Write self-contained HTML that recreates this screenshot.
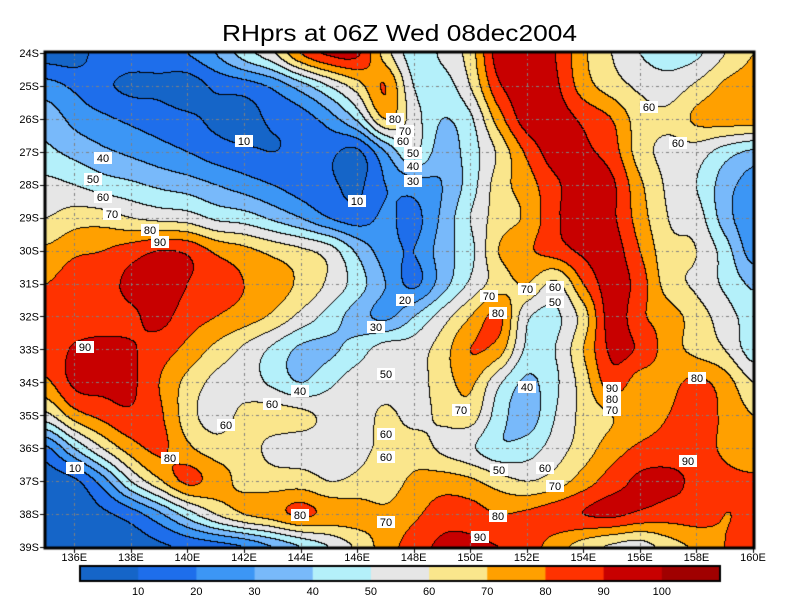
<!DOCTYPE html>
<html><head><meta charset="utf-8">
<style>
html,body{margin:0;padding:0;background:#fff;}
#wrap{position:relative;width:800px;height:600px;overflow:hidden;font-family:"Liberation Sans",sans-serif;}
canvas{position:absolute;left:0;top:0;}
svg{position:absolute;left:0;top:0;}
</style></head><body>
<div id="wrap">
<canvas id="c" width="800" height="600"></canvas>
<svg width="800" height="600" xmlns="http://www.w3.org/2000/svg" font-family="Liberation Sans, sans-serif">
<text x="222" y="41" font-size="23" textLength="355" lengthAdjust="spacingAndGlyphs">RHprs at 06Z Wed 08dec2004</text>
<g id="lab" font-size="11"></g>
<g id="ax" font-size="11"></g>
</svg>
</div>
<script>
var G=[
[5,5,15,15,15,20,30,45,58,80,92,92,65,45,52,65,95,96,90,72,60,50,45,48,60,70],
[24,18,12,8,8,5,12,15,22,35,50,65,80,50,45,60,88,96,92,75,65,58,55,62,72,75],
[36,27,22,18,15,12,8,6,12,15,25,42,70,55,40,48,75,95,95,88,80,65,62,72,75,75],
[42,37,32,28,24,20,15,12,10,12,12,8,30,50,35,45,62,82,95,92,85,65,57,55,45,38],
[53,50,45,42,38,35,30,25,20,15,12,8,20,25,30,45,65,75,88,95,92,72,58,50,35,25],
[60,65,65,60,57,55,48,45,38,30,20,15,22,17,32,50,65,72,88,95,92,75,60,55,35,22],
[72,78,80,85,90,88,78,73,67,62,55,38,25,20,35,47,70,78,85,92,95,80,63,60,45,25],
[80,85,85,93,95,90,85,80,75,68,58,45,30,18,35,52,65,70,58,80,95,85,65,58,48,38],
[85,85,85,88,93,85,80,75,68,57,46,35,28,40,55,70,82,52,48,65,95,82,75,65,55,45],
[85,91,93,91,85,77,67,58,48,38,38,45,55,55,65,80,75,48,50,70,92,88,75,67,60,45],
[78,92,93,92,80,67,57,55,48,40,48,55,55,55,65,72,52,38,48,65,85,75,77,82,75,60],
[57,75,83,88,82,65,55,63,65,63,57,55,62,57,62,65,45,35,50,63,70,73,80,85,78,70],
[18,40,60,75,82,72,65,65,57,55,57,58,62,65,58,52,42,45,55,65,75,82,85,85,78,72],
[5,8,25,50,68,82,75,67,65,65,60,62,65,72,75,72,65,60,65,75,85,92,92,88,83,82],
[5,5,8,15,28,45,60,70,75,82,77,75,72,78,85,85,80,82,86,90,92,88,85,85,80,82],
[5,5,5,5,8,12,15,20,30,40,50,62,75,85,92,92,90,85,75,65,58,55,65,72,80,85]];
var COLS=["#1565c8","#1e6eeb","#3c96f5","#78b9fa","#b4f0fa","#e6e6e6","#fae68c","#ffa000","#ff3200","#c80000","#a00000"];
var RGB=COLS.map(function(h){return [parseInt(h.substr(1,2),16),parseInt(h.substr(3,2),16),parseInt(h.substr(5,2),16)];});
function g(r,c){r=Math.max(0,Math.min(15,r));c=Math.max(0,Math.min(25,c));return G[r][c];}
function cr(p0,p1,p2,p3,t){return 0.5*((2*p1)+(-p0+p2)*t+(2*p0-5*p1+4*p2-p3)*t*t+(-p0+3*p1-3*p2+p3)*t*t*t);}
function val(u,v){var i=Math.floor(v),j=Math.floor(u),tv=v-i,tu=u-j;var rows=[];
for(var k=-1;k<=2;k++){rows.push(cr(g(i+k,j-1),g(i+k,j),g(i+k,j+1),g(i+k,j+2),tu));}
return cr(rows[0],rows[1],rows[2],rows[3],tv);}
var X0=46,Y0=53,X1=753,Y1=547,W=X1-X0,H=Y1-Y0;
var cv=document.getElementById('c'),ctx=cv.getContext('2d');
var img=ctx.createImageData(W,H),band=new Int8Array(W*H);
for(var y=0;y<H;y++)for(var x=0;x<W;x++){var u=x/(W/25),v=y/(H/15);var b=Math.floor(val(u,v)/10);if(b<0)b=0;if(b>10)b=10;band[y*W+x]=b;}
for(var y=0;y<H;y++)for(var x=0;x<W;x++){var b=band[y*W+x],o=(y*W+x)*4,c=RGB[b];
var edge=(x<W-1&&band[y*W+x+1]!=b)||(y<H-1&&band[(y+1)*W+x]!=b);
if(edge){img.data[o]=0;img.data[o+1]=0;img.data[o+2]=0;}else{img.data[o]=c[0];img.data[o+1]=c[1];img.data[o+2]=c[2];}img.data[o+3]=255;}
ctx.putImageData(img,X0,Y0);
// grid
ctx.strokeStyle="#808080";ctx.lineWidth=1;ctx.setLineDash([3,3,1,3]);
for(var L=136;L<160;L+=2){var gx=Math.round(X0+(L-135)*W/25)+0.5;ctx.beginPath();ctx.moveTo(gx,Y0);ctx.lineTo(gx,Y1);ctx.stroke();}
for(var S=25;S<39;S++){var gy=Math.round(Y0+(S-24)*H/15)+0.5;ctx.beginPath();ctx.moveTo(X0,gy);ctx.lineTo(X1,gy);ctx.stroke();}
ctx.setLineDash([]);
ctx.strokeStyle="#000";ctx.lineWidth=3;ctx.strokeRect(X0-1,Y0-1,W+2,H+2);
ctx.lineWidth=1;
for(var L=136;L<=160;L+=2){var gx=Math.round(X0+(L-135)*W/25)+0.5;ctx.beginPath();ctx.moveTo(gx,Y1);ctx.lineTo(gx,Y1+6);ctx.stroke();}
for(var S=24;S<=39;S++){var gy=Math.round(Y0+(S-24)*H/15)+0.5;ctx.beginPath();ctx.moveTo(X0-6,gy);ctx.lineTo(X0,gy);ctx.stroke();}
// colorbar
var bx=80,bw=640/11;
for(var i=0;i<11;i++){ctx.fillStyle=COLS[i];ctx.fillRect(bx+i*bw,566,bw+1,15);}
ctx.strokeStyle="#000";ctx.lineWidth=2;ctx.strokeRect(80,566,640,15);
// svg text
var NS="http://www.w3.org/2000/svg";
function T(par,x,y,s,anchor,bg){var t=document.createElementNS(NS,'text');t.setAttribute('x',x);t.setAttribute('y',y);t.setAttribute('text-anchor',anchor||'middle');t.textContent=s;
if(bg){var r=document.createElementNS(NS,'rect');r.setAttribute('x',x-s.length*3.5-2);r.setAttribute('y',y-10);r.setAttribute('width',s.length*7+4);r.setAttribute('height',12);r.setAttribute('fill','#fff');par.appendChild(r);}
par.appendChild(t);}
var ax=document.getElementById('ax');
for(var L=136;L<=160;L+=2){T(ax,X0+(L-135)*W/25,561,L+"E");}
for(var S=24;S<=39;S++){T(ax,39,Y0+(S-24)*H/15+4,S+"S","end");}
for(var i=1;i<=10;i++){T(ax,bx+i*bw,595,String(i*10));}
var labs=[[244,141,"10"],[357,201,"10"],[103,158,"40"],[93,179,"50"],[103,197,"60"],[112,214,"70"],[150,230,"80"],[160,242,"90"],[395,119,"80"],[405,131,"70"],[403,141,"60"],[413,153,"50"],[413,166,"40"],[413,181,"30"],[649,107,"60"],[678,143,"60"],[405,300,"20"],[376,327,"30"],[489,296,"70"],[498,313,"80"],[527,289,"70"],[555,287,"60"],[555,302,"50"],[85,347,"90"],[300,391,"40"],[386,374,"50"],[272,404,"60"],[226,425,"60"],[386,434,"60"],[386,457,"60"],[461,410,"70"],[527,387,"40"],[612,388,"90"],[612,399,"80"],[612,410,"70"],[697,378,"80"],[688,461,"90"],[499,470,"50"],[545,468,"60"],[555,486,"70"],[498,516,"80"],[480,537,"90"],[386,522,"70"],[300,515,"80"],[170,458,"80"],[75,468,"10"]];
var lg=document.getElementById('lab');
labs.forEach(function(a){T(lg,a[0],a[1]+4,a[2],'middle',true);});
</script>
</body></html>
